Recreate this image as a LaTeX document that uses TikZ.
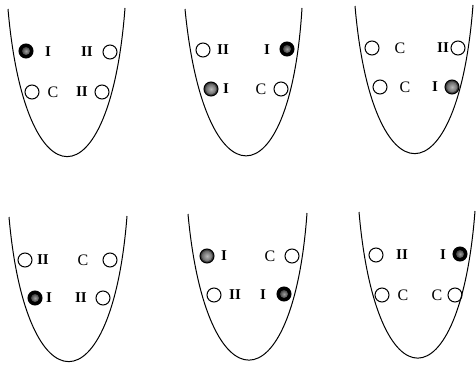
\documentclass[tikz,border=0pt]{standalone}
\usepackage{fontspec}
\setmainfont{Liberation Serif}
\begin{document}
\begin{tikzpicture}[x=1pt,y=-1pt,
  cupline/.style={line width=1pt},
  oc/.style={circle,draw,line width=1pt,minimum size=14pt,inner sep=0pt},
  dk/.style={oc,fill=black,path picture={\shade[inner color=gray!75,outer color=black] (path picture bounding box.center) circle (4pt);}},
  gr/.style={oc,fill=black!75,path picture={\shade[inner color=gray!55,outer color=black!70] (path picture bounding box.center) circle (5.5pt);}},
  lb/.style={inner sep=0pt,font=\fontsize{15}{15}\selectfont\bfseries},
  lc/.style={inner sep=0pt,font=\fontsize{16}{16}\selectfont}]
\useasboundingbox (0,0) rectangle (476,364);
% cups
\draw[cupline] (8,9) .. controls (25,206) and (110,206) .. (125,8);
\draw[cupline] (185,9) .. controls (204,205) and (290,205) .. (302,8);
\draw[cupline] (355,6) .. controls (372,203) and (458,203) .. (473,5);
\draw[cupline] (9,217) .. controls (26,410) and (112,410) .. (127,216);
\draw[cupline] (188,214) .. controls (206,409) and (293,409) .. (307,213);
\draw[cupline] (359,212) .. controls (376,407) and (460,407) .. (475,211);
% panel 1
\node[dk] (a1) at (26,51) {};
\node[lb] (a2) at (48,52) {I};
\node[lb] (a3) at (87,52) {II};
\node[oc] (a4) at (110,52) {};
\node[oc] (a5) at (32,92) {};
\node[lc] (a6) at (53,92) {C};
\node[lb] (a7) at (82,92) {II};
\node[oc] (a8) at (102,92) {};
% panel 2
\node[oc] (b1) at (203,50) {};
\node[lb] (b2) at (223,50) {II};
\node[lb] (b3) at (267,50) {I};
\node[dk] (b4) at (287,49) {};
\node[gr] (b5) at (211,89) {};
\node[lb] (b6) at (226,89) {I};
\node[lc] (b7) at (261,89) {C};
\node[oc] (b8) at (281,89) {};
% panel 3
\node[oc] (c1) at (372,48) {};
\node[lc] (c2) at (400,48) {C};
\node[lb] (c3) at (443,48) {II};
\node[oc] (c4) at (458,48) {};
\node[oc] (c5) at (380,87) {};
\node[lc] (c6) at (405,87) {C};
\node[lb] (c7) at (435,87) {I};
\node[gr] (c8) at (452,87) {};
% panel 4
\node[oc] (d1) at (25,260) {};
\node[lb] (d2) at (43,260) {II};
\node[lc] (d3) at (83,260) {C};
\node[oc] (d4) at (110,260) {};
\node[dk] (d5) at (35,298) {};
\node[lb] (d6) at (49,298) {I};
\node[lb] (d7) at (81,298) {II};
\node[oc] (d8) at (103,298) {};
% panel 5
\node[gr] (e1) at (207,256) {};
\node[lb] (e2) at (224,256) {I};
\node[lc] (e3) at (270,256) {C};
\node[oc] (e4) at (292,256) {};
\node[oc] (e5) at (214,295) {};
\node[lb] (e6) at (235,295) {II};
\node[lb] (e7) at (263,295) {I};
\node[dk] (e8) at (284,294) {};
% panel 6
\node[oc] (f1) at (376,255) {};
\node[lb] (f2) at (402,255) {II};
\node[lb] (f3) at (443,255) {I};
\node[dk] (f4) at (460,254) {};
\node[oc] (f5) at (382,295) {};
\node[lc] (f6) at (403,295) {C};
\node[lc] (f7) at (437,295) {C};
\node[oc] (f8) at (455,295) {};
\end{tikzpicture}
\end{document}
